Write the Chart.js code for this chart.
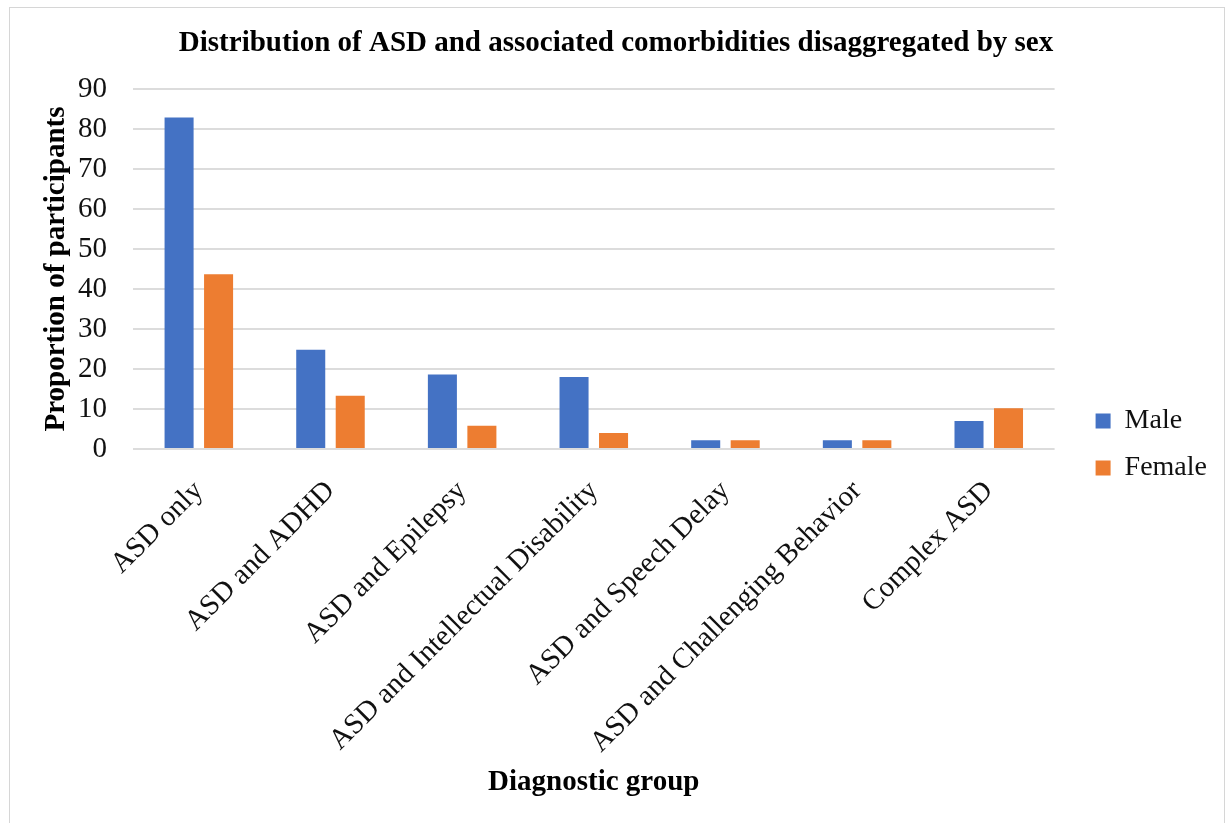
<!DOCTYPE html>
<html>
<head>
<meta charset="utf-8">
<script src="https://cdn.jsdelivr.net/npm/chart.js@4/dist/chart.umd.min.js"></script>
<style>
  html, body { margin: 0; padding: 0; background: #ffffff; }
  #wrap { position: relative; width: 1232px; height: 823px; overflow: hidden; }
  #frame { position: absolute; left: 9px; top: 7px; width: 1216px; height: 840px;
           border: 1.5px solid #d6d6d6; box-sizing: border-box; pointer-events: none; }
  canvas { position: absolute; left: 0; top: 0; }
</style>
</head>
<body>
<div id="wrap">
  <canvas id="chart" width="1232" height="823"></canvas>
  <div id="frame"></div>
</div>
<script>
// Diagnostic groups along the x axis
const categories = [
  'ASD only',
  'ASD and ADHD',
  'ASD and Epilepsy',
  'ASD and Intellectual Disability',
  'ASD and Speech Delay',
  'ASD and Challenging Behavior',
  'Complex ASD'
];

// Proportion of participants per group, by sex
const maleValues   = [82.9, 24.8, 18.6, 18.0, 2.2, 2.2, 7.0];
const femaleValues = [43.7, 13.3, 5.8, 4.0, 2.2, 2.2, 10.2];

// Value axis ticks
const yTicks = [0, 10, 20, 30, 40, 50, 60, 70, 80, 90];

const FONT = "'Liberation Serif', 'Times New Roman', serif";
const TEXT = '#111111';

new Chart(document.getElementById('chart'), {
  type: 'bar',
  data: {
    labels: categories,
    datasets: [
      { label: 'Male',   data: maleValues,   backgroundColor: '#4472C4', borderWidth: 0 },
      { label: 'Female', data: femaleValues, backgroundColor: '#ED7D31', borderWidth: 0 }
    ]
  },
  options: {
    responsive: false,
    animation: false,
    devicePixelRatio: 1,
    categoryPercentage: 0.6,
    barPercentage: 0.735,
    layout: { padding: { left: 15, right: 15, top: 0, bottom: 0 } },
    plugins: {
      title: {
        display: true,
        text: 'Distribution of ASD and associated comorbidities disaggregated by sex',
        color: '#000000',
        font: { family: FONT, size: 29, weight: 'bold' },
        padding: { top: 25.8, bottom: 28.4 }
      },
      legend: {
        display: true,
        position: 'right',
        align: 'center',
        // empty title only pushes the legend entries down beside the axis
        title: { display: true, text: '', font: { family: FONT, size: 29 }, padding: { top: 31.2, bottom: 0 } },
        labels: {
          color: TEXT,
          font: { family: FONT, size: 28 },
          boxWidth: 15,
          boxHeight: 15,
          padding: 19
        }
      },
      tooltip: { enabled: false }
    },
    scales: {
      x: {
        type: 'category',
        offset: true,
        grid: { display: false, drawTicks: false },
        border: { display: false },
        ticks: {
          color: TEXT,
          font: { family: FONT, size: 29 },
          minRotation: 45,
          maxRotation: 45,
          autoSkip: false,
          padding: 25
        },
        title: {
          display: true,
          text: 'Diagnostic group',
          color: '#000000',
          font: { family: FONT, size: 29, weight: 'bold' },
          padding: { top: 0, bottom: 22.6 }
        },
        afterFit(scale) { scale.height = 374; }
      },
      y: {
        type: 'linear',
        position: 'left',
        min: yTicks[0],
        max: yTicks[yTicks.length - 1],
        afterBuildTicks(scale) { scale.ticks = yTicks.map(v => ({ value: v })); },
        grid: { color: '#dcdcdc', lineWidth: 2, drawTicks: false },
        border: { display: false },
        ticks: {
          color: TEXT,
          font: { family: FONT, size: 29 },
          padding: 26
        },
        title: {
          display: true,
          text: 'Proportion of participants',
          color: '#000000',
          font: { family: FONT, size: 29, weight: 'bold' },
          padding: { top: 24, bottom: 0 }
        },
        afterFit(scale) { scale.width = 118; }
      },
      // blank spacer between the plot area and the legend
      gap: {
        type: 'linear',
        position: 'right',
        display: true,
        grid: { display: false, drawTicks: false },
        border: { display: false },
        ticks: { display: false },
        afterFit(scale) { scale.width = 22; }
      }
    }
  }
});
</script>
</body>
</html>
